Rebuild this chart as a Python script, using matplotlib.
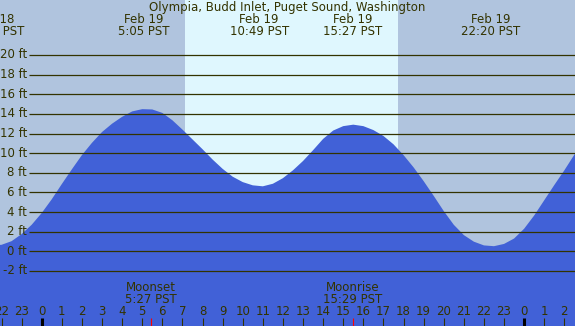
import matplotlib
matplotlib.use("Agg")
import matplotlib.pyplot as plt

# ---- data ----
hours = [-2.5, -2.0, -1.5, -1.0, -0.5, 0.0, 0.5, 1.0, 1.5, 2.0, 2.5, 3.0, 3.5, 4.0,
         4.5, 5.0, 5.5, 6.0, 6.5, 7.0, 7.5, 8.0, 8.5, 9.0, 9.5, 10.0, 10.5, 11.0,
         11.5, 12.0, 12.5, 13.0, 13.5, 14.0, 14.5, 15.0, 15.5, 16.0, 16.5, 17.0,
         17.5, 18.0, 18.5, 19.0, 19.5, 20.0, 20.5, 21.0, 21.5, 22.0, 22.5, 23.0,
         23.5, 24.0, 24.5, 25.0, 25.5, 26.0, 26.5, 27.0]
heights = [0.62, 0.66, 1.03, 1.75, 2.7, 3.9, 5.3, 6.85, 8.35, 9.8, 11.05, 12.15, 13.0, 13.7,
           14.25, 14.48, 14.45, 14.1, 13.35, 12.4, 11.4, 10.4, 9.35, 8.4, 7.6, 7.05, 6.72, 6.62,
           6.88, 7.45, 8.25, 9.2, 10.3, 11.45, 12.3, 12.75, 12.9, 12.75, 12.35, 11.75,
           10.9, 9.8, 8.55, 7.15, 5.65, 4.1, 2.7, 1.65, 0.98, 0.6, 0.52, 0.75,
           1.3, 2.3, 3.65, 5.2, 6.75, 8.25, 9.85, 11.3]

extreme_hours = [-2.32, 5.083, 10.817, 15.45, 22.333]
extreme_labels = ["Feb 18\n21:41 PST", "Feb 19\n5:05 PST", "Feb 19\n10:49 PST",
                  "Feb 19\n15:27 PST", "Feb 19\n22:20 PST"]

sunrise = 7.13
sunset = 17.73

moon_hours = [5.45, 15.483]
moon_labels = ["Moonset\n5:27 PST", "Moonrise\n15:29 PST"]

grid_levels = [-2, 0, 2, 4, 6, 8, 10, 12, 14, 16, 18, 20]
grid_labels = ["-2 ft", "0 ft", "2 ft", "4 ft", "6 ft", "8 ft", "10 ft", "12 ft",
               "14 ft", "16 ft", "18 ft", "20 ft"]

tick_hours = list(range(-2, 27))
tick_labels = ["22", "23", "0", "1", "2", "3", "4", "5", "6", "7", "8", "9", "10", "11",
               "12", "13", "14", "15", "16", "17", "18", "19", "20", "21", "22", "23",
               "0", "1", "2"]
midnights = [0, 24]

title = "Olympia, Budd Inlet, Puget Sound, Washington"

# ---- styling ----
W, H = 575, 326
NIGHT = "#B0C4DE"
DAY = "#DFF7FE"
WATER = "#4161D7"
INK = "#333300"
FS = 8.5
XMIN, XMAX = -2.075, 26.53
YMIN, YMAX = -7.61, 25.6

plt.rcParams['font.family'] = ['DejaVu Sans']

fig = plt.figure(figsize=(W / 100, H / 100), dpi=100)
ax = fig.add_axes([0, 0, 1, 1])
ax.set_xlim(XMIN, XMAX)
ax.set_ylim(YMIN, YMAX)
ax.axis("off")
ax.set_facecolor(NIGHT)
fig.patch.set_facecolor(NIGHT)

def fy(py):
    return 1 - py / H

def px2t(px):
    return XMIN + px / W * (XMAX - XMIN)

ax.axvspan(XMIN, XMAX, color=NIGHT, zorder=0, lw=0)
ax.axvspan(sunrise, sunset, color=DAY, zorder=1, lw=0)

ax.fill_between(hours, heights, YMIN - 5, color=WATER, lw=0, zorder=2)

ax.hlines(grid_levels, px2t(29), XMAX + 1, colors=INK, lw=0.9, zorder=3)
for lv, lb in zip(grid_levels, grid_labels):
    ax.text(px2t(27), lv, lb, ha="right", va="center", fontsize=FS, color=INK, zorder=4)

xt = ax.get_xaxis_transform()
ax.text((XMIN + XMAX) / 2, fy(7.5), title, transform=xt, ha="center", va="center",
        fontsize=FS, color=INK)
for t, lb in zip(extreme_hours, extreme_labels):
    l1, l2 = lb.split("\n")
    ax.text(t, fy(19.5), l1, transform=xt, ha="center", va="center", fontsize=FS, color=INK)
    ax.text(t, fy(31.5), l2, transform=xt, ha="center", va="center", fontsize=FS, color=INK)

for t, lb in zip(moon_hours, moon_labels):
    l1, l2 = lb.split("\n")
    ax.text(t, fy(287.5), l1, transform=xt, ha="center", va="center", fontsize=FS, color=INK, zorder=5)
    ax.text(t, fy(299.5), l2, transform=xt, ha="center", va="center", fontsize=FS, color=INK, zorder=5)
    ax.vlines(t, 0, fy(318), transform=xt, colors="red", lw=0.8, zorder=5)

for t, lb in zip(tick_hours, tick_labels):
    ax.text(t, fy(311.5), lb, transform=xt, ha="center", va="center", fontsize=FS, color=INK, zorder=5)
    if t in midnights:
        ax.vlines(t, 0, fy(318), transform=xt, colors="black", lw=2.2, zorder=5)
    else:
        ax.vlines(t, 0, fy(318), transform=xt, colors=INK, lw=0.8, zorder=5)

fig.savefig("out.png", dpi=100, facecolor=NIGHT)
